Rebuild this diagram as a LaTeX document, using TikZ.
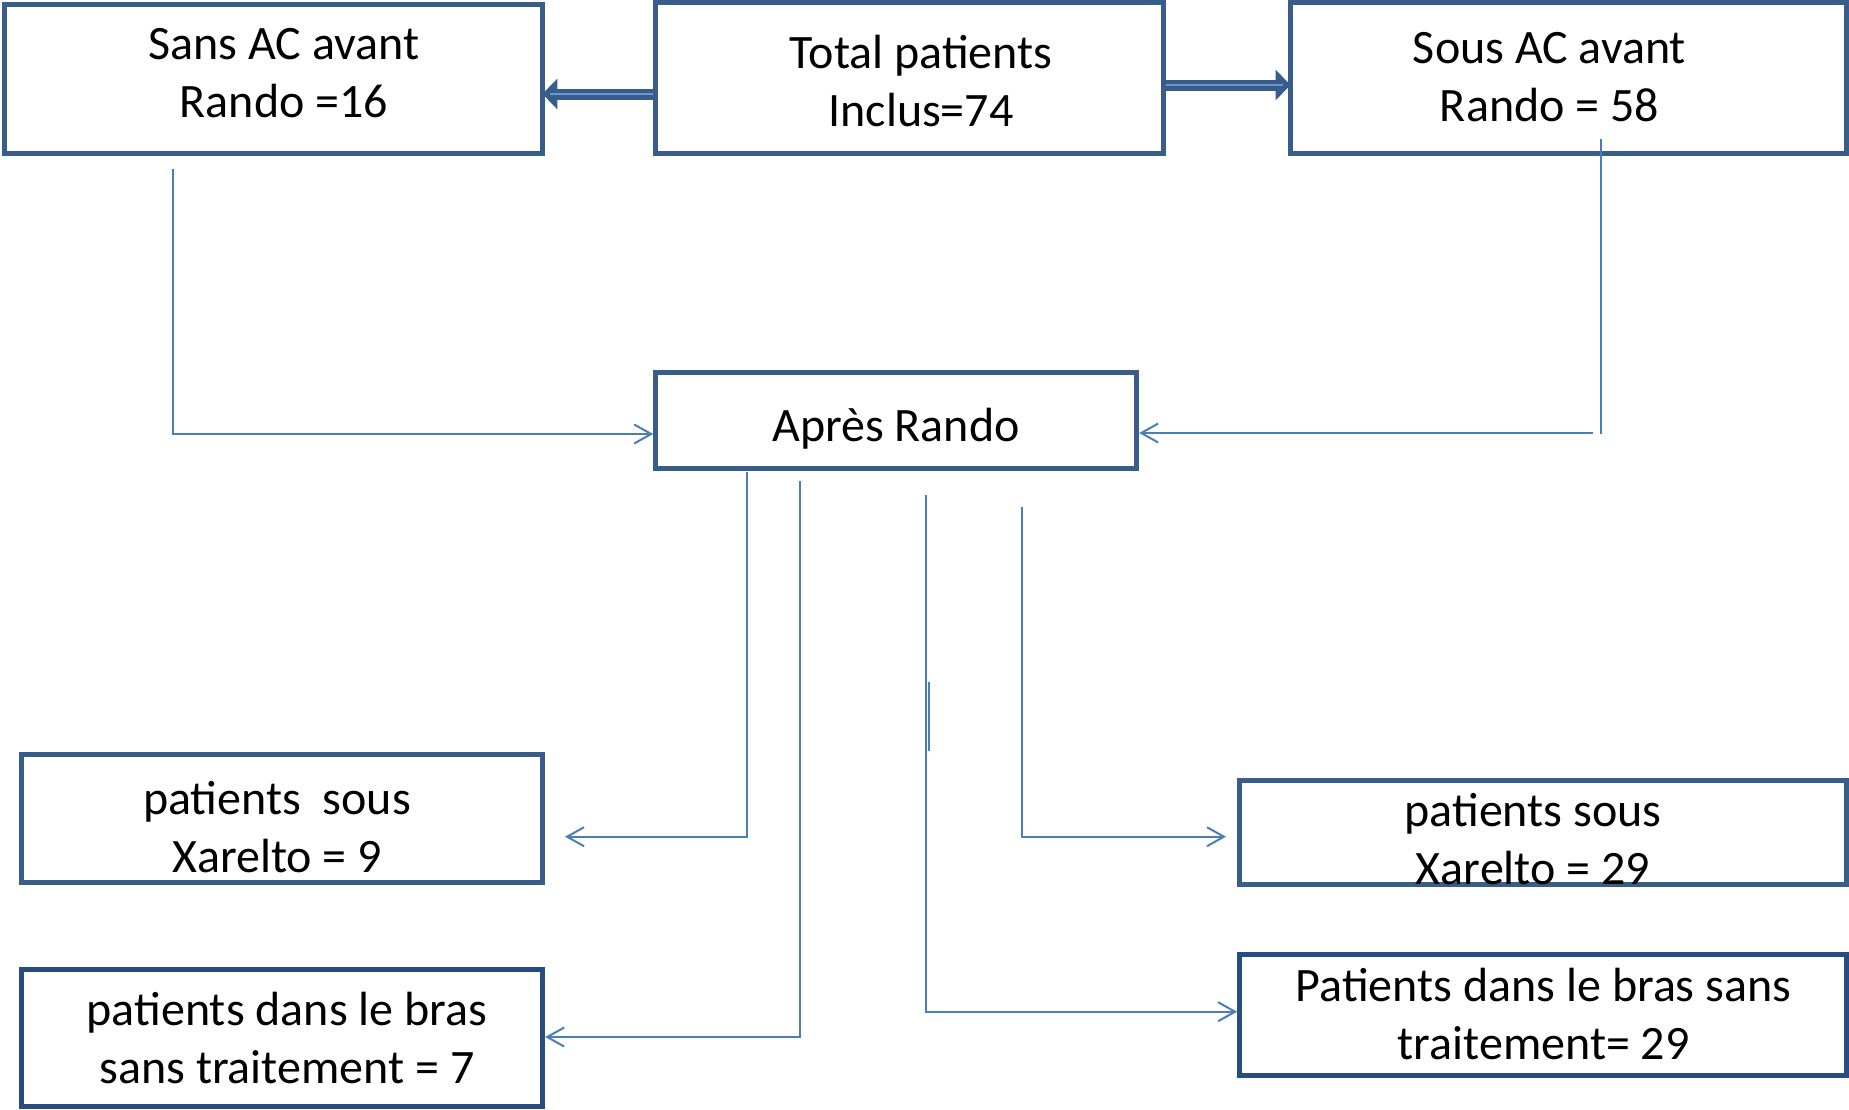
\documentclass[tikz,border=0pt]{standalone}
\usepackage{fontspec}
\setmainfont{Carlito}
\usetikzlibrary{arrows.meta}
\definecolor{boxc}{HTML}{385D8A}
\definecolor{boxd}{HTML}{264C80}
\definecolor{conc}{HTML}{4A7EBB}
\definecolor{lite}{HTML}{6A97CF}
\begin{document}
\begin{tikzpicture}[x=1pt,y=-1pt,
  box/.style={draw=boxc,line width=5pt,inner sep=0pt,fill=none},
  boxdk/.style={box,draw=boxd},
  txt/.style={align=center,font=\fontsize{48}{58}\selectfont,inner sep=0pt,text=black},
  conn/.style={draw=conc,line width=2pt},
  arr/.style={conn,-{Straight Barb[length=17pt,width=19pt]}},
  dbl/.style={draw=boxc,line width=11pt,-{Triangle[length=15pt,width=30pt]}},
  dblin/.style={draw=lite,line width=2pt}]
\useasboundingbox (0,0) rectangle (1849,1109);
% boxes
\node[box,minimum width=537.8pt,minimum height=148.6pt] (sans) at (273.6,79) {};
\node[box,minimum width=507.5pt,minimum height=150.9pt] (total) at (909.5,77.9) {};
\node[box,minimum width=556.6pt,minimum height=150.9pt] (sous) at (1568.3,77.9) {};
\node[box,minimum width=480.9pt,minimum height=95.9pt] (apres) at (896.2,420.5) {};
\node[box,minimum width=521.4pt,minimum height=127.8pt] (x9) at (281.9,818.6) {};
\node[boxdk,minimum width=521.4pt,minimum height=136.8pt] (st7) at (281.9,1037.6) {};
\node[box,minimum width=606.9pt,minimum height=103.7pt] (x29) at (1543.1,832.8) {};
\node[boxdk,minimum width=606.9pt,minimum height=121.4pt] (st29) at (1543.1,1014.7) {};
% texts
\node[txt] (tsans) at (284,73) {Sans AC avant\\Rando =16};
\node[txt] (ttotal) at (921,81) {Total patients\\Inclus=74};
\node[txt] (tsous) at (1549.5,77) {Sous AC avant\\Rando = 58};
\node[txt] (tapres) at (896,429) {Après Rando};
\node[txt] (tx9) at (277,826.7) {patients\ \ sous\\Xarelto = 9};
\node[txt] (tst7) at (287,1038) {patients dans le bras\\sans traitement = 7};
\node[txt] (tx29) at (1533,839) {patients sous\\Xarelto = 29};
\node[txt] (tst29) at (1543.6,1014) {Patients dans le bras sans\\traitement= 29};
% thick arrows
\coordinate (aL) at (550,94);
\coordinate (bR) at (1283,85);
\draw[dbl,shorten >=-2.6pt] (total.west |- aL) -- (sans.east |- aL);
\draw[dblin] (total.west |- aL) -- (aL);
\draw[dbl,shorten >=-3pt] (total.east |- bR) -- (sous.west |- bR);
\draw[dblin] (total.east |- bR) -- (bR);
% connectors to Apres Rando
\coordinate (s1) at (173,168.6);
\coordinate (s1y) at (0,434);
\draw[arr] (s1) |- (apres.west |- s1y);
\coordinate (r1) at (1601,139);
\coordinate (r2) at (1601,434);
\coordinate (r3) at (1593,433);
\draw[conn] (r1) -- (r2);
\draw[arr] (r3) -- (apres.east |- r3);
% connectors from Apres Rando
\coordinate (c1) at (746.7,471.7);
\coordinate (c1e) at (565,836.7);
\draw[arr] (c1) |- (c1e);
\coordinate (c2) at (799.5,481);
\coordinate (c2y) at (0,1037);
\draw[arr] (c2) |- (st7.east |- c2y);
\coordinate (c3) at (925.6,495);
\coordinate (c3y) at (0,1011.7);
\draw[arr] (c3) |- (st29.west |- c3y);
\coordinate (c4) at (1022,507);
\coordinate (c4e) at (1226,836.7);
\draw[arr] (c4) |- (c4e);
\coordinate (m1) at (929,682);
\coordinate (m2) at (929,750.5);
\draw[conn] (m1) -- (m2);
\end{tikzpicture}
\end{document}
